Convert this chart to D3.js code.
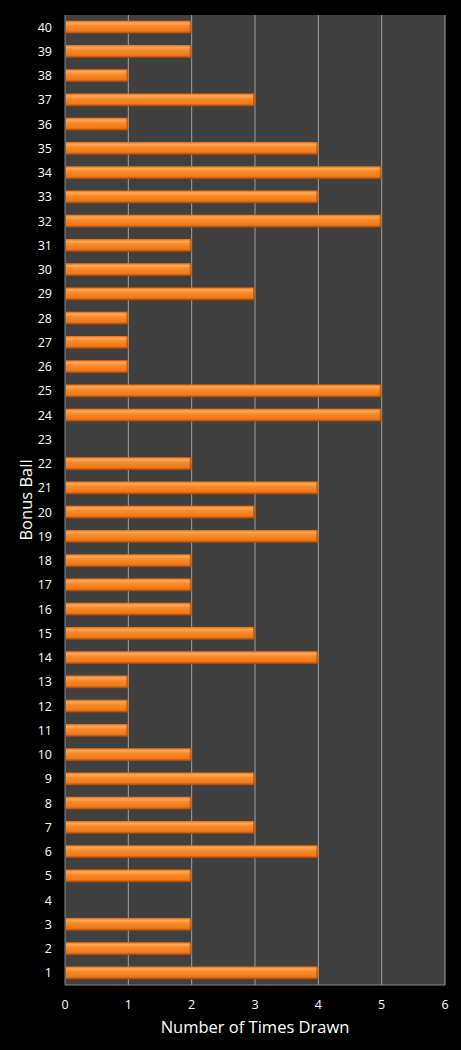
<!DOCTYPE html>
<html>
<head>
<meta charset="utf-8">
<script src="https://cdn.jsdelivr.net/npm/d3@7.9.0/dist/d3.min.js"></script>
<style>
  html, body { margin: 0; padding: 0; background: #000; }
  svg { display: block; }
  text { font-family: "Open Sans", "DejaVu Sans", sans-serif; fill: #fff; }
</style>
</head>
<body>
<svg id="chart" width="461" height="1050"></svg>
<script>
// bonus ball numbers, bottom to top
const balls = d3.range(1, 41).map(String);
// times each ball was drawn
const timesDrawn = [4, 2, 2, 0, 2, 4, 3, 2, 3, 2,
                    1, 1, 1, 4, 3, 2, 2, 2, 4, 3,
                    4, 2, 0, 5, 5, 1, 1, 1, 3, 2,
                    2, 5, 4, 5, 4, 1, 3, 1, 2, 2];
const xTicks = [0, 1, 2, 3, 4, 5, 6];

const margin = { top: 15, right: 16, bottom: 65, left: 65 };
const width = 461 - margin.left - margin.right;
const height = 1050 - margin.top - margin.bottom;

const svg = d3.select("#chart");

// bar gradient: light highlight on top, dark bottom edge
const defs = svg.append("defs");
const grad = defs.append("linearGradient")
    .attr("id", "barGrad")
    .attr("x1", 0).attr("y1", 0).attr("x2", 0).attr("y2", 1);
grad.append("stop").attr("offset", "0%").attr("stop-color", "#e06810");
grad.append("stop").attr("offset", "18%").attr("stop-color", "#ffa858");
grad.append("stop").attr("offset", "40%").attr("stop-color", "#fb8a2a");
grad.append("stop").attr("offset", "80%").attr("stop-color", "#f07818");
grad.append("stop").attr("offset", "100%").attr("stop-color", "#9c420a");

const g = svg.append("g").attr("transform", `translate(${margin.left},${margin.top})`);

const x = d3.scaleLinear().domain([0, 6]).range([0, width]);
const y = d3.scaleBand().domain(balls.slice().reverse()).range([0, height]).paddingInner(0.47).paddingOuter(0.235);

// plot background
g.append("rect")
    .attr("width", width)
    .attr("height", height)
    .attr("fill", "#404040");

// vertical gridlines
g.selectAll(".grid")
    .data(xTicks.slice(1))
    .enter()
    .append("line")
    .attr("x1", d => x(d)).attr("x2", d => x(d))
    .attr("y1", 0).attr("y2", height)
    .attr("stroke", "#a0a0a0")
    .attr("stroke-width", 1);

// left and bottom axis lines
g.append("line")
    .attr("x1", 0).attr("x2", 0).attr("y1", 0).attr("y2", height)
    .attr("stroke", "#8a8a8a");
g.append("line")
    .attr("x1", 0).attr("x2", width).attr("y1", height).attr("y2", height)
    .attr("stroke", "#8a8a8a");

// bars
const data = balls.map((b, i) => ({ ball: b, value: timesDrawn[i] }));

g.selectAll(".bar")
    .data(data.filter(d => d.value > 0))
    .enter()
    .append("rect")
    .attr("class", "bar")
    .attr("x", 1)
    .attr("y", d => y(d.ball))
    .attr("width", d => x(d.value) - 1)
    .attr("height", y.bandwidth())
    .attr("fill", "url(#barGrad)");

// darker cap at the end of each bar
g.selectAll(".cap")
    .data(data.filter(d => d.value > 0))
    .enter()
    .append("rect")
    .attr("class", "cap")
    .attr("x", d => x(d.value) - 2)
    .attr("y", d => y(d.ball))
    .attr("width", 2)
    .attr("height", y.bandwidth())
    .attr("fill", "#b05410")
    .attr("opacity", 0.75);

// y axis labels
g.selectAll(".ylab")
    .data(balls)
    .enter()
    .append("text")
    .attr("x", -13)
    .attr("y", d => y(d) + y.bandwidth() / 2)
    .attr("dy", "0.35em")
    .attr("text-anchor", "end")
    .attr("font-size", 12.5)
    .text(d => d);

// x axis labels
g.selectAll(".xlab")
    .data(xTicks)
    .enter()
    .append("text")
    .attr("x", d => x(d))
    .attr("y", height + 24)
    .attr("text-anchor", "middle")
    .attr("font-size", 12.5)
    .text(d => d);

// axis titles
svg.append("text")
    .attr("x", margin.left + width / 2)
    .attr("y", 1033)
    .attr("text-anchor", "middle")
    .attr("font-size", 16.5)
    .text("Number of Times Drawn");

svg.append("text")
    .attr("transform", `translate(32,${margin.top + height / 2}) rotate(-90)`)
    .attr("text-anchor", "middle")
    .attr("font-size", 16.5)
    .text("Bonus Ball");
</script>
</body>
</html>
